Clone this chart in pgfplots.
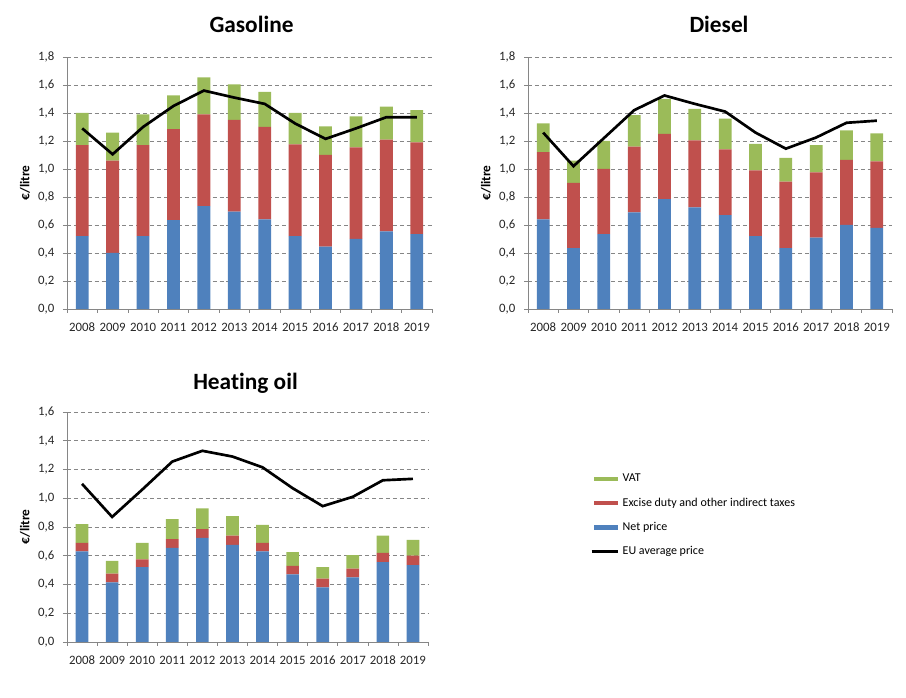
\documentclass[border=0pt]{standalone}
\usepackage{fontspec}
\setmainfont{Carlito}[Ligatures=NoCommon]
\usepackage{pgfplots}
\usepackage{pgfplotstable}
\pgfplotsset{compat=1.18}
\definecolor{netc}{HTML}{4F81BD}
\definecolor{excc}{HTML}{C0504D}
\definecolor{vatc}{HTML}{9BBB59}
\definecolor{gridc}{HTML}{868686}

\pgfplotstableread{
x net exc vat eu
0 0.52 0.65 0.23 1.29
1 0.40 0.66 0.20 1.105
2 0.52 0.65 0.22 1.30
3 0.635 0.65 0.24 1.45
4 0.735 0.655 0.265 1.56
5 0.695 0.655 0.255 1.51
6 0.64 0.66 0.25 1.465
7 0.52 0.655 0.225 1.325
8 0.445 0.655 0.205 1.215
9 0.50 0.655 0.22 1.29
10 0.555 0.655 0.235 1.37
11 0.535 0.655 0.23 1.37
}\gas

\pgfplotstableread{
x net exc vat eu
0 0.64 0.48 0.205 1.26
1 0.435 0.465 0.16 1.02
2 0.535 0.465 0.20 1.22
3 0.69 0.47 0.225 1.42
4 0.785 0.465 0.25 1.525
5 0.725 0.48 0.225 1.465
6 0.67 0.47 0.22 1.41
7 0.52 0.47 0.19 1.26
8 0.435 0.475 0.17 1.145
9 0.51 0.465 0.195 1.225
10 0.60 0.465 0.21 1.33
11 0.58 0.475 0.20 1.345
}\dsl

\pgfplotstableread{
x net exc vat eu
0 0.63 0.06 0.13 1.10
1 0.415 0.06 0.09 0.87
2 0.52 0.055 0.115 1.06
3 0.655 0.06 0.14 1.255
4 0.725 0.06 0.145 1.33
5 0.675 0.065 0.135 1.29
6 0.63 0.06 0.125 1.215
7 0.47 0.06 0.095 1.07
8 0.38 0.06 0.08 0.945
9 0.45 0.06 0.095 1.01
10 0.555 0.065 0.12 1.125
11 0.535 0.065 0.11 1.135
}\heat

\pgfplotsset{
  base/.style={
    scale only axis, anchor=south west,
    xmin=-0.5, xmax=11.5, ymin=0,
  },
  fuel/.style={
    base,
    ybar stacked, bar width=0.42,
    axis x line*=bottom, axis y line*=left,
    axis line style={gridc,-},
    tick align=outside, major tick length=3pt,
    tick style={gridc, line width=0.5pt},
    xtick={-0.5,0.5,...,11.5}, xticklabels={},
    extra x ticks={0,1,2,3,4,5,6,7,8,9,10,11},
    extra x tick labels={2008,2009,2010,2011,2012,2013,2014,2015,2016,2017,2018,2019},
    extra x tick style={major tick length=0pt, grid=none,
      tick label style={yshift=-7pt}},
    ymajorgrids, grid style={gridc, dash pattern=on 3pt off 2.2pt, line width=0.5pt},
    tick label style={font=\fontsize{9.6}{11}\selectfont, text=black!85},
    /pgf/number format/assume math mode=true,
    yticklabel style={/pgf/number format/.cd, fixed, fixed zerofill, precision=1, use comma, /tikz/.cd, xshift=-3pt},
    ylabel={€/litre},
    ylabel style={font=\bfseries\fontsize{10}{12}\selectfont, at={(axis description cs:0,0.5)}, anchor=center, rotate=0, yshift=31.5pt},
    title style={font=\bfseries\fontsize{17.5}{20}\selectfont, at={(0.5,1)}, anchor=base},
  },
  eu/.style={
    base, hide axis,
  },
}

\begin{document}
\begin{tikzpicture}
\path (0,0) rectangle (679.5pt,523.5pt);

% Gasoline
\begin{axis}[fuel, at={(50.25pt,291.75pt)}, width=273.75pt, height=189pt,
  ymax=1.8, ytick={0,0.2,0.4,0.6,0.8,1.0,1.2,1.4,1.6,1.8},
  title={Gasoline}, title style={yshift=12pt, xshift=1.5pt}]
\addplot[fill=netc, draw=none] table[x=x, y=net] {\gas};
\addplot[fill=excc, draw=none] table[x=x, y=exc] {\gas};
\addplot[fill=vatc, draw=none] table[x=x, y=vat] {\gas};
\end{axis}
\begin{axis}[eu, at={(50.25pt,291.75pt)}, width=273.75pt, height=189pt, ymax=1.8]
\addplot[black, line width=2pt, no marks] table[x=x, y=eu] {\gas};
\end{axis}

% Diesel
\begin{axis}[fuel, at={(396pt,291.75pt)}, width=273pt, height=189pt,
  ymax=1.8, ytick={0,0.2,0.4,0.6,0.8,1.0,1.2,1.4,1.6,1.8},
  title={Diesel}, title style={yshift=12pt, xshift=6.75pt}]
\addplot[fill=netc, draw=none] table[x=x, y=net] {\dsl};
\addplot[fill=excc, draw=none] table[x=x, y=exc] {\dsl};
\addplot[fill=vatc, draw=none] table[x=x, y=vat] {\dsl};
\end{axis}
\begin{axis}[eu, at={(396pt,291.75pt)}, width=273pt, height=189pt, ymax=1.8]
\addplot[black, line width=2pt, no marks] table[x=x, y=eu] {\dsl};
\end{axis}

% Heating oil
\begin{axis}[fuel, at={(50.25pt,42pt)}, width=270.75pt, height=172.5pt,
  ymax=1.6, ytick={0,0.2,0.4,0.6,0.8,1.0,1.2,1.4,1.6},
  title={Heat\kern0pt ing oil}, title style={yshift=11pt, xshift=-1.5pt}]
\addplot[fill=netc, draw=none] table[x=x, y=net] {\heat};
\addplot[fill=excc, draw=none] table[x=x, y=exc] {\heat};
\addplot[fill=vatc, draw=none] table[x=x, y=vat] {\heat};
\end{axis}
\begin{axis}[eu, at={(50.25pt,42pt)}, width=270.75pt, height=172.5pt, ymax=1.6,
  legend style={at={(1.449,0.74)}, anchor=north west, draw=none, fill=none,
    font=\fontsize{9}{11}\selectfont, row sep=7.5pt, inner sep=0pt,
    nodes={inner sep=1.5pt}},
  legend cell align=left]
\addplot[black, line width=2pt, no marks, forget plot] table[x=x, y=eu] {\heat};
\addlegendimage{legend image code/.code={\draw[vatc, line width=3.5pt] (0pt,0pt) -- (18pt,0pt);}}
\addlegendentry{VAT}
\addlegendimage{legend image code/.code={\draw[excc, line width=3.5pt] (0pt,0pt) -- (18pt,0pt);}}
\addlegendentry{Excise duty and other indirect taxes}
\addlegendimage{legend image code/.code={\draw[netc, line width=3.5pt] (0pt,0pt) -- (18pt,0pt);}}
\addlegendentry{Net price}
\addlegendimage{legend image code/.code={\draw[black, line width=2pt] (-2pt,0pt) -- (18pt,0pt);}}
\addlegendentry{EU average price}
\end{axis}
\end{tikzpicture}
\end{document}
